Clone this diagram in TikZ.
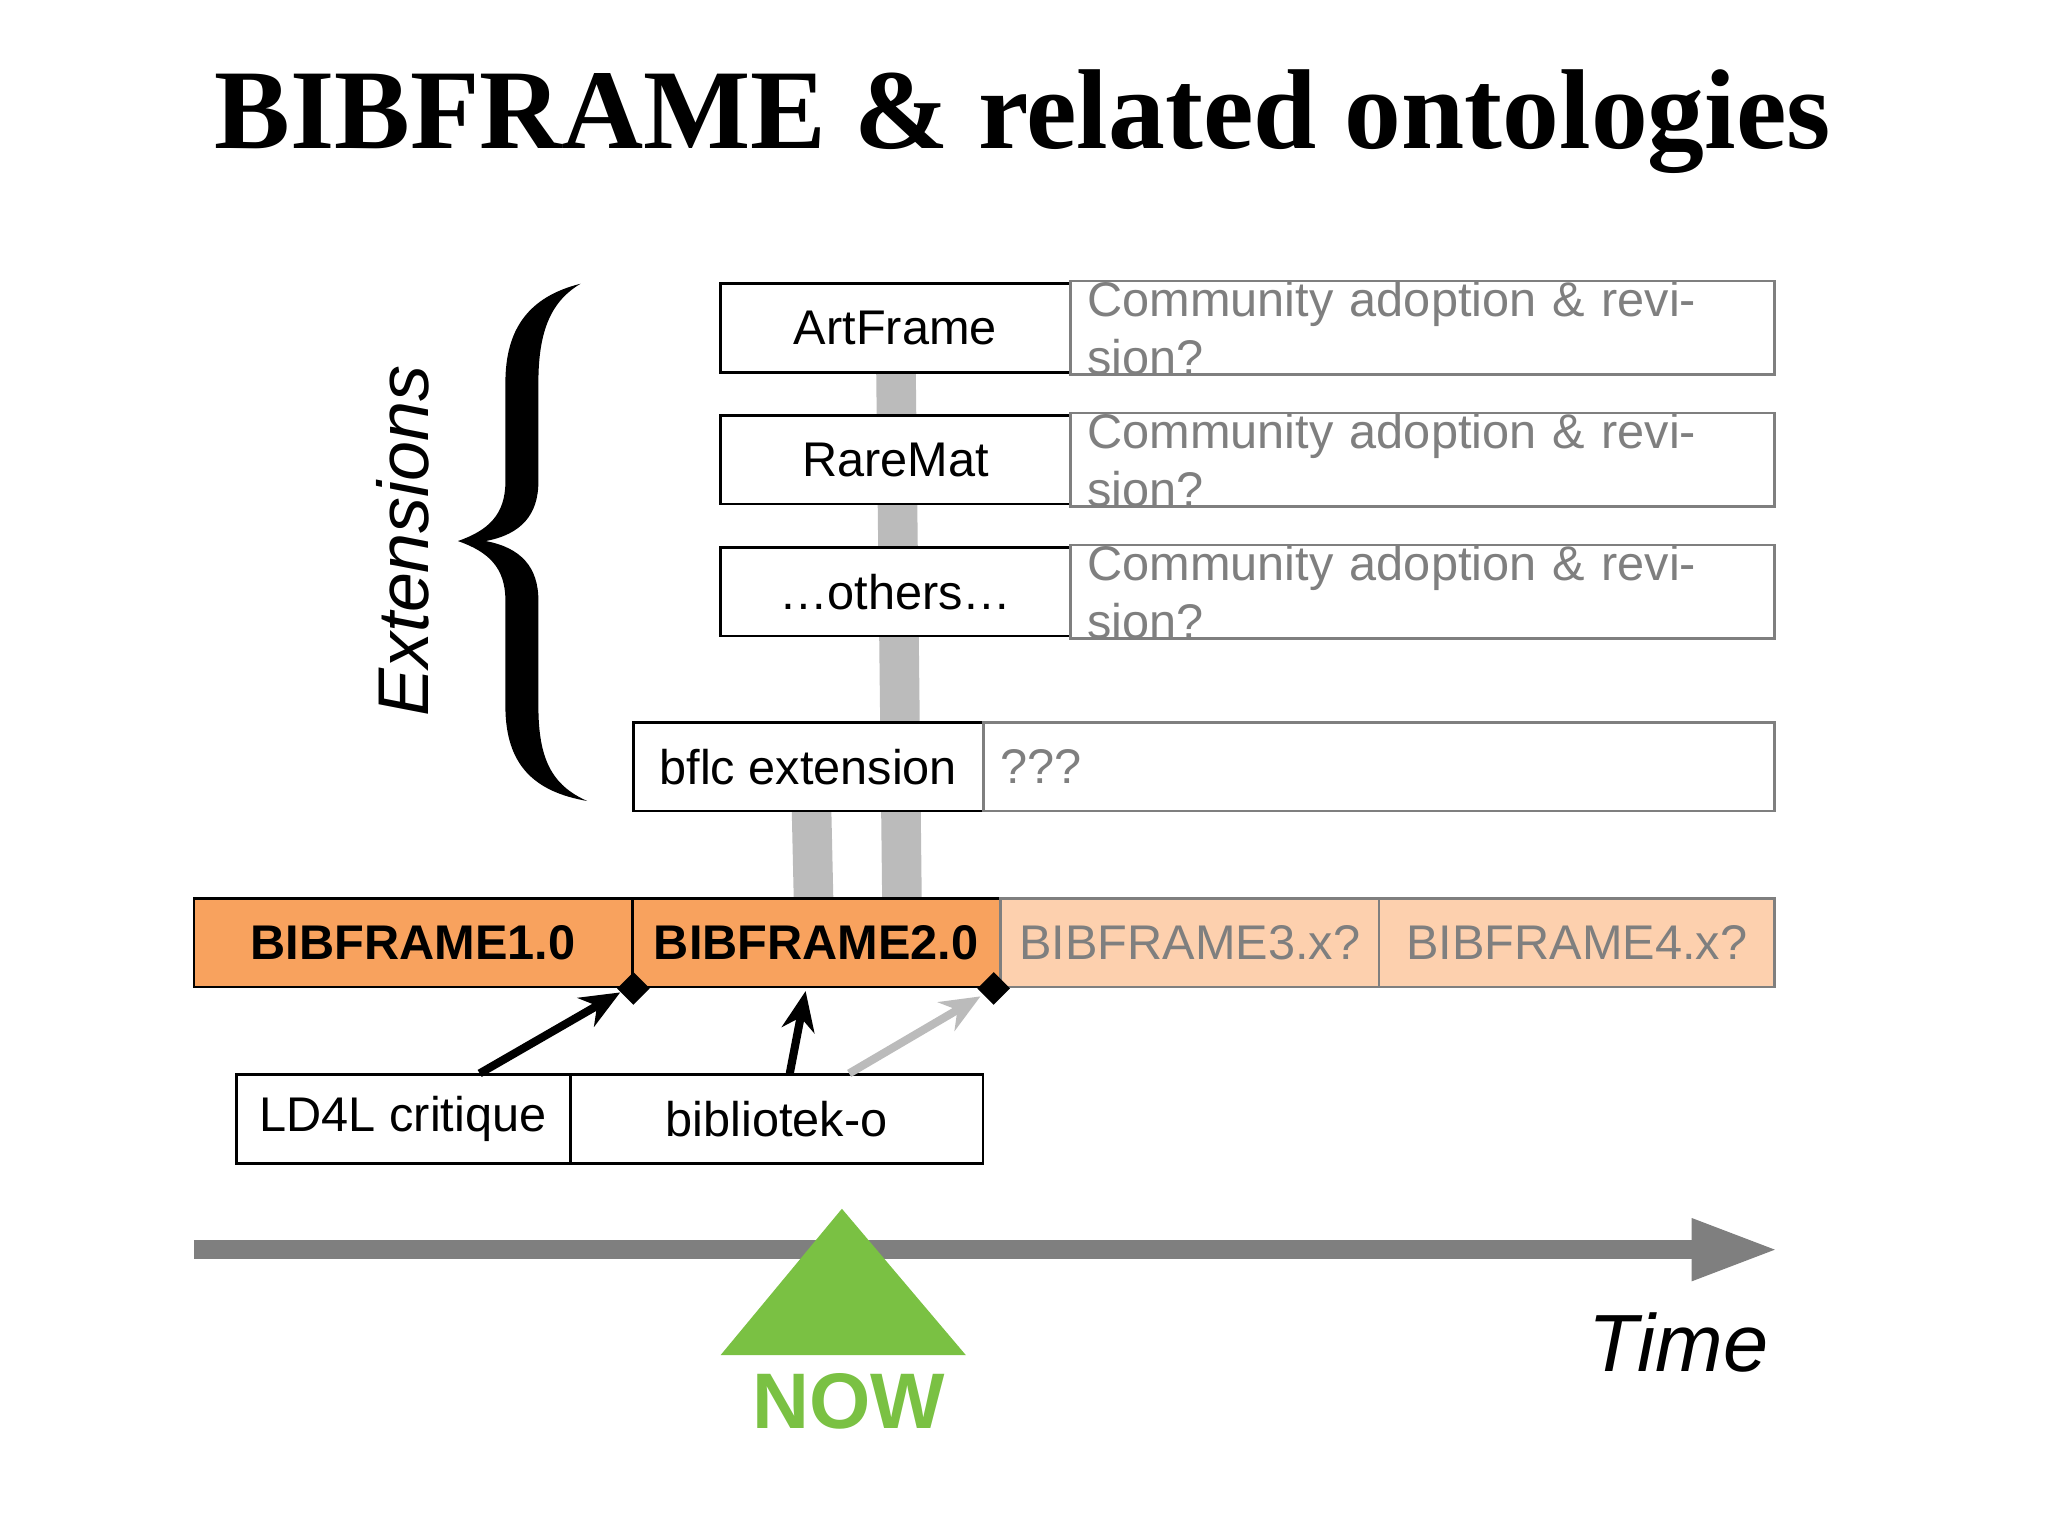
\documentclass[tikz,border=0pt]{standalone}
\usepackage{fontspec}
\setmainfont{Liberation Sans}
\newfontfamily\titlefont{Liberation Serif}
\usetikzlibrary{shapes.geometric,arrows.meta,calc}
\definecolor{org}{HTML}{F8A25E}
\definecolor{lorg}{HTML}{FDD0AE}
\definecolor{gtxt}{HTML}{7F7F7F}
\definecolor{barg}{HTML}{BBBBBB}
\definecolor{grn}{HTML}{7AC143}
\begin{document}
\begin{tikzpicture}[x=0.02cm,y=-0.02cm,
  box/.style={draw=black,line width=1.2pt,minimum height=1.34cm,inner sep=0pt,font=\fontsize{21}{25}\selectfont},
  ext/.style={box,minimum width=5.3cm,fill=white},
  cbox/.style={draw=gtxt,line width=1.2pt,minimum height=1.34cm,inner xsep=0.26cm,inner ysep=0pt,align=left,text=gtxt,fill=white,font=\fontsize{21}{25}\selectfont},
  bfa/.style={box,fill=org,font=\fontsize{21}{25}\selectfont\bfseries},
  bfb/.style={draw=gtxt,line width=1.2pt,minimum height=1.34cm,inner sep=0pt,fill=lorg,text=gtxt,font=\fontsize{21}{25}\selectfont},
  bar/.style={barg,line width=0.6cm},
  arr/.style={line width=3.5pt,-{Stealth[length=0.6cm,width=0.5cm]}},
  dia/.style={diamond,fill=black,minimum size=0.5cm,inner sep=0pt}]
\useasboundingbox (0,0) rectangle (1552,1164);
\node[font=\titlefont\fontsize{49}{55}\selectfont\bfseries] (title) at (775,92) {BIBFRAME \& related ontologies};
% bars (drawn first)
\coordinate (artb) at (679,282);
\coordinate (bflb) at (615,614);
\coordinate (bf2t) at (618.5,681);
\draw[bar] (artb) -- ($(bf2t)+(65,0)$);
\draw[bar] (bflb) -- ($(bf2t)+(-2,0)$);
% extension boxes
\node[ext] (art) at (678.5,248.5) {ArtFrame};
\node[cbox,text width=10.16cm] (artc) at (1078,248.5) {Community adoption \& revision?};
\node[ext] (rare) at (678.5,348.5) {RareMat};
\node[cbox,text width=10.16cm] (rarec) at (1078,348.5) {Community adoption \& revision?};
\node[ext] (oth) at (678.5,448.5) {\dots others\dots};
\node[cbox,text width=10.16cm] (othc) at (1078,448.5) {Community adoption \& revision?};
\node[ext] (bflc) at (612.5,581) {bflc extension};
\node[cbox,text width=11.48cm] (bflcc) at (1045,581) {???};
% bibframe row
\node[bfa,minimum width=6.64cm] (bf1) at (313,714.5) {BIBFRAME1.0};
\node[bfa,minimum width=5.58cm] (bf2) at (618.5,714.5) {BIBFRAME2.0};
\node[bfb,minimum width=5.74cm] (bf3) at (901.5,714.5) {BIBFRAME3.x?};
\node[bfb,minimum width=6.0cm] (bf4) at (1195,714.5) {BIBFRAME4.x?};
\node[dia] (d1) at (bf1.south east) {};
\node[dia] (d2) at ($(bf2.south east)+(-6,0)$) {};
% critiques
\node[box,minimum width=5.06cm] (ld) at (305.5,848) {LD4L critique};
\node[box,minimum width=6.26cm] (bib) at (588.5,848) {bibliotek-o};
\draw[arr] ($(ld.north)+(58,0)$) -- ($(bf1.south east)+(-10,3)$);
\draw[arr] ($(bib.north)+(10,0)$) -- ($(bf2.south)+(-8,2)$);
\draw[arr,barg] ($(bib.north)+(55,0)$) -- ($(bf2.south east)+(-16,6)$);
% brace
\fill (440,215) .. controls (400,225) and (383,250) .. (383,290)
  -- (383,365) .. controls (383,390) and (370,402) .. (347,410)
  .. controls (370,418) and (383,430) .. (383,455)
  -- (383,535) .. controls (383,580) and (405,600) .. (445,607)
  .. controls (418,595) and (408,575) .. (408,535)
  -- (408,455) .. controls (408,430) and (395,415) .. (368,410)
  .. controls (395,405) and (408,390) .. (408,365)
  -- (408,290) .. controls (408,250) and (418,228) .. (440,215) -- cycle;
\node[rotate=90,font=\fontsize{31}{35}\selectfont\itshape] (extl) at (305,410) {Extensions};
% time axis
\coordinate (t0) at (147,947);
\coordinate (t1) at (1282,947);
\coordinate (t2) at (1345,947);
\draw[gtxt,line width=0.28cm] (t0) -- (t1);
\fill[gtxt] ($(t1)+(0,-24)$) -- (t2) -- ($(t1)+(0,24)$) -- cycle;
\node[font=\fontsize{35}{40}\selectfont\itshape] (time) at (1272,1017) {Time};
\fill[grn] (638,916) -- (732,1027) -- (546,1027) -- cycle;
\node[text=grn,font=\fontsize{34}{40}\selectfont\bfseries] (now) at (643,1062) {NOW};
\end{tikzpicture}
\end{document}
